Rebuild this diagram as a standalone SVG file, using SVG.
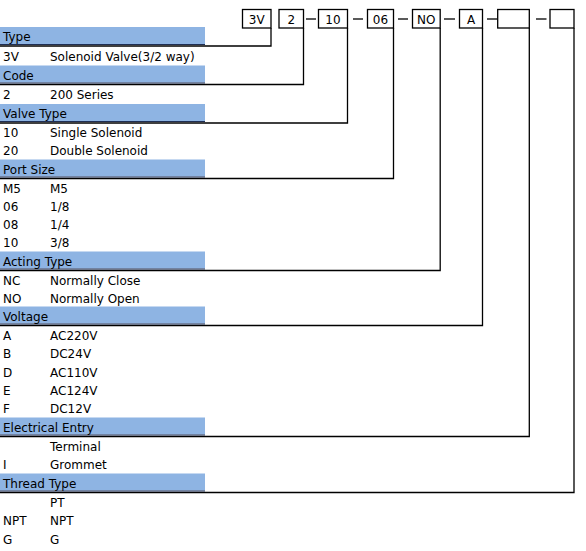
<svg xmlns="http://www.w3.org/2000/svg" width="586" height="551" viewBox="0 0 586 551">
<style>
text{font-family:"DejaVu Sans",Verdana,"Liberation Sans",sans-serif;font-size:12px;fill:#000}
.box{fill:#fff;stroke:#000;stroke-width:1.3}
.bt{text-anchor:middle}
.band{fill:#8eb4e3}
.nav{stroke:#1f2f55;stroke-width:1.2}
.con{fill:none;stroke:#000;stroke-width:1.3}
</style>
<rect width="586" height="551" fill="#fff"/>
<g id="codes">
<g id="box-3v"><rect class="box" x="242.5" y="9.5" width="28.5" height="18.5"/><text class="bt" x="256.7" y="23.5">3V</text></g>
<g id="box-2"><rect class="box" x="279" y="9.5" width="24.5" height="18.5"/><text class="bt" x="291.2" y="23.5">2</text></g>
<g id="box-10"><rect class="box" x="318.5" y="9.5" width="29" height="18.5"/><text class="bt" x="333" y="23.5">10</text></g>
<g id="box-06"><rect class="box" x="367.5" y="9.5" width="26" height="18.5"/><text class="bt" x="380.5" y="23.5">06</text></g>
<g id="box-no"><rect class="box" x="412.5" y="9.5" width="27.7" height="18.5"/><text class="bt" x="426.3" y="23.5">NO</text></g>
<g id="box-a"><rect class="box" x="459.5" y="9.5" width="23" height="18.5"/><text class="bt" x="471" y="23.5">A</text></g>
<g id="box-e1"><rect class="box" x="497.7" y="9.5" width="31.6" height="18.5"/></g>
<g id="box-e2"><rect class="box" x="550" y="9.5" width="24" height="18.5"/></g>
</g>
<g id="dashes" class="con">
<line x1="306" y1="19" x2="316" y2="19"/>
<line x1="353" y1="19" x2="363" y2="19"/>
<line x1="398" y1="19" x2="408" y2="19"/>
<line x1="444" y1="19" x2="455" y2="19"/>
<line x1="487" y1="19" x2="497" y2="19"/>
<line x1="536" y1="19" x2="546.5" y2="19"/>
</g>
<g id="connectors" class="con">
<polyline points="0,46 271,46 271,28"/>
<polyline points="0,84.5 303.5,84.5 303.5,28"/>
<polyline points="0,123 347.5,123 347.5,28"/>
<polyline points="0,178.5 393.5,178.5 393.5,28"/>
<polyline points="0,270.5 440.2,270.5 440.2,28"/>
<polyline points="0,325.5 482.5,325.5 482.5,28"/>
<polyline points="0,436.5 529.3,436.5 529.3,28"/>
<polyline points="0,492.5 574,492.5 574,28"/>
</g>
<g id="sec-type">
<rect class="band" x="0" y="27" width="205" height="17"/><line class="nav" x1="0" y1="44.5" x2="205" y2="44.5"/>
<text x="3" y="41">Type</text>
<text x="3" y="60.5">3V</text><text x="50" y="60.5">Solenoid Valve(3/2 way)</text>
</g>
<g id="sec-code">
<rect class="band" x="0" y="65.5" width="205" height="17"/><line class="nav" x1="0" y1="83" x2="205" y2="83"/>
<text x="3" y="79.5">Code</text>
<text x="3" y="99">2</text><text x="50" y="99">200 Series</text>
</g>
<g id="sec-valve">
<rect class="band" x="0" y="104" width="205" height="17"/><line class="nav" x1="0" y1="121.5" x2="205" y2="121.5"/>
<text x="3" y="118">Valve Type</text>
<text x="3" y="137">10</text><text x="50" y="137">Single Solenoid</text>
<text x="3" y="155.3">20</text><text x="50" y="155.3">Double Solenoid</text>
</g>
<g id="sec-port">
<rect class="band" x="0" y="159.5" width="205" height="17"/><line class="nav" x1="0" y1="177" x2="205" y2="177"/>
<text x="3" y="173.5">Port Size</text>
<text x="3" y="192.5">M5</text><text x="50" y="192.5">M5</text>
<text x="3" y="210.8">06</text><text x="50" y="210.8">1/8</text>
<text x="3" y="229">08</text><text x="50" y="229">1/4</text>
<text x="3" y="247.3">10</text><text x="50" y="247.3">3/8</text>
</g>
<g id="sec-acting">
<rect class="band" x="0" y="251.5" width="205" height="17"/><line class="nav" x1="0" y1="269" x2="205" y2="269"/>
<text x="3" y="265.5">Acting Type</text>
<text x="3" y="284.5">NC</text><text x="50" y="284.5">Normally Close</text>
<text x="3" y="302.5">NO</text><text x="50" y="302.5">Normally Open</text>
</g>
<g id="sec-voltage">
<rect class="band" x="0" y="306.5" width="205" height="17"/><line class="nav" x1="0" y1="324" x2="205" y2="324"/>
<text x="3" y="320.5">Voltage</text>
<text x="3" y="339.7">A</text><text x="50" y="339.7">AC220V</text>
<text x="3" y="358.1">B</text><text x="50" y="358.1">DC24V</text>
<text x="3" y="376.5">D</text><text x="50" y="376.5">AC110V</text>
<text x="3" y="394.9">E</text><text x="50" y="394.9">AC124V</text>
<text x="3" y="413.3">F</text><text x="50" y="413.3">DC12V</text>
</g>
<g id="sec-electrical">
<rect class="band" x="0" y="417.5" width="205" height="17"/><line class="nav" x1="0" y1="435" x2="205" y2="435"/>
<text x="3" y="431.5">Electrical Entry</text>
<text x="50" y="450.7">Terminal</text>
<text x="3" y="469.2">I</text><text x="50" y="469.2">Grommet</text>
</g>
<g id="sec-thread">
<rect class="band" x="0" y="473.5" width="205" height="17"/><line class="nav" x1="0" y1="491" x2="205" y2="491"/>
<text x="3" y="487.5">Thread Type</text>
<text x="50" y="506.7">PT</text>
<text x="3" y="525.1">NPT</text><text x="50" y="525.1">NPT</text>
<text x="3" y="543.5">G</text><text x="50" y="543.5">G</text>
</g>
</svg>
